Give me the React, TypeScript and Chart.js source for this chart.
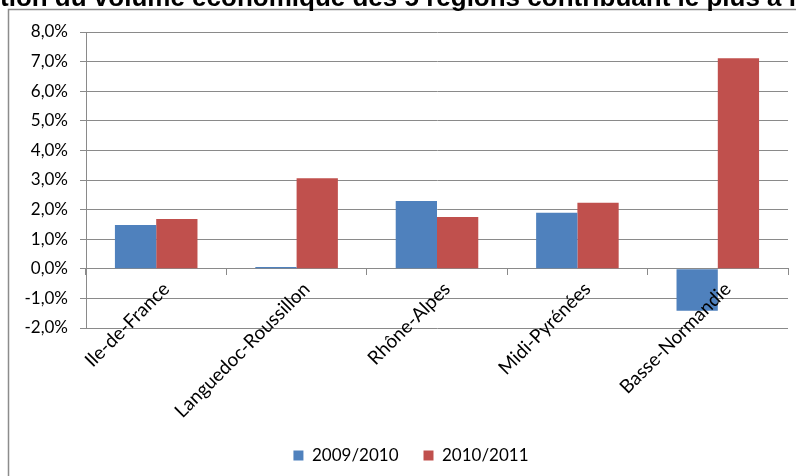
import React, { useEffect, useRef } from "react";
import { Chart, registerables } from "chart.js";

Chart.register(...registerables);

const categories = ["Ile-de-France", "Languedoc-Roussillon", "Rhône-Alpes", "Midi-Pyrénées", "Basse-Normandie"];
const seriesNames = ["2009/2010", "2010/2011"];
const values2009 = [1.48, 0.06, 2.29, 1.89, -1.42];
const values2010 = [1.68, 3.06, 1.75, 2.23, 7.11];
const yMin = -2;
const yMax = 8;
const yStep = 1;
const titleText = "Évolution du volume économique des 5 régions contribuant le plus à la croissance";

const FONT = "Lato, 'Open Sans', sans-serif";
const GRID = "#8a8a8a";

const decor = {
  id: "decor",
  afterLayout(chart: any) {
    if (chart.legend) {
      chart.legend.left = 34;
    }
  },
  beforeDraw(chart: any) {
    const ctx = chart.ctx;
    const w = chart.width;
    const h = chart.height;
    ctx.save();
    ctx.strokeStyle = "#8c8c8c";
    ctx.lineWidth = 1.5;
    ctx.beginPath();
    ctx.moveTo(8.5, h);
    ctx.lineTo(8.5, 9.5);
    ctx.lineTo(w, 9.5);
    ctx.stroke();
    ctx.font = "bold 26px 'Liberation Sans', Arial, sans-serif";
    ctx.fillStyle = "#000";
    ctx.textAlign = "left";
    ctx.textBaseline = "alphabetic";
    const pre = ctx.measureText("Évolu").width;
    ctx.fillText(titleText, -pre, 6);
    ctx.restore();
  },
};

export default function App() {
  const ref = useRef<HTMLCanvasElement | null>(null);
  useEffect(() => {
    if (!ref.current) return;
    const chart = new Chart(ref.current, {
      type: "bar",
      data: {
        labels: categories,
        datasets: [
          { label: seriesNames[0], data: values2009, backgroundColor: "#4F81BD" },
          { label: seriesNames[1], data: values2010, backgroundColor: "#C0504D" },
        ],
      },
      options: {
        responsive: false,
        animation: false,
        layout: { padding: { left: 0, right: 8, top: 32, bottom: 2 } },
        datasets: { bar: { categoryPercentage: 0.588, barPercentage: 1 } } as any,
        scales: {
          x: {
            position: { y: 0 } as any,
            grid: { display: true, drawOnChartArea: false, drawTicks: true, tickLength: 6, color: GRID, offset: true },
            border: { display: true, color: GRID },
            ticks: { z: 1, maxRotation: 45, minRotation: 45, autoSkip: false, color: "#000", padding: 3, labelOffset: 10, font: { family: FONT, size: 19 } },
            afterFit: (s: any) => { s.height = 0; },
          },
          x2: {
            type: "category",
            position: "bottom",
            grid: { display: false },
            border: { display: false },
            ticks: { display: false },
            afterFit: (s: any) => { s.height = 94; },
          },
          y: {
            min: yMin,
            max: yMax,
            ticks: {
              stepSize: yStep,
              color: "#000",
              padding: 12,
              font: { family: FONT, size: 17 },
              callback: (v: any) => Number(v).toFixed(1).replace(".", ",") + "%",
            },
            grid: { color: GRID, tickLength: 6 },
            border: { display: true, color: GRID },
            afterFit: (s: any) => { s.width = 86; },
          },
        } as any,
        plugins: {
          legend: {
            position: "bottom",
            labels: { boxWidth: 10, boxHeight: 10, padding: 25, color: "#000", font: { family: FONT, size: 17 } },
          },
          tooltip: { enabled: false },
          title: { display: false },
        },
      },
      plugins: [decor],
    });
    return () => chart.destroy();
  }, []);
  return (
    <div style={{ position: "absolute", left: 0, top: 0, width: 796, height: 476, background: "#fff" }}>
      <canvas ref={ref} width={796} height={476} style={{ display: "block" }} />
    </div>
  );
}
